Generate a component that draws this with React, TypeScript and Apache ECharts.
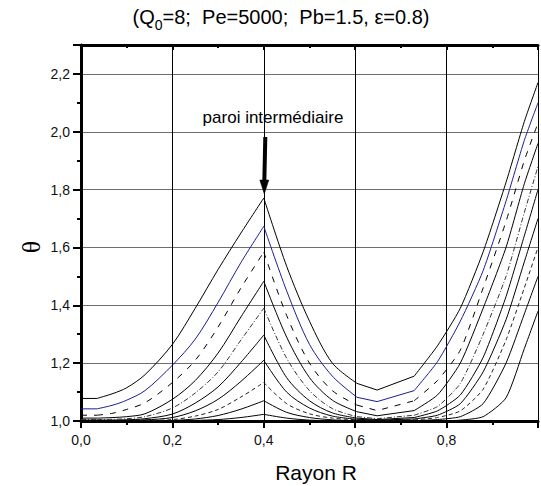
import React, { useEffect, useRef } from 'react';
import * as echarts from 'echarts';

// Radial positions (Rayon R)
const R: number[] = [0, 0.035, 0.07, 0.1, 0.14, 0.2, 0.25, 0.3, 0.35, 0.4, 0.45, 0.5, 0.55, 0.604, 0.648, 0.729, 0.78, 0.83, 0.88, 0.93, 0.97, 1.0];

// Theta profiles
const theta1: number[] = [1.078, 1.078, 1.095, 1.115, 1.16, 1.265, 1.39, 1.524, 1.65, 1.771, 1.535, 1.345, 1.2, 1.13, 1.107, 1.155, 1.26, 1.39, 1.585, 1.825, 2.035, 2.17];
const theta2: number[] = [1.042, 1.042, 1.055, 1.072, 1.105, 1.193, 1.283, 1.41, 1.548, 1.673, 1.45, 1.265, 1.155, 1.082, 1.067, 1.105, 1.205, 1.345, 1.52, 1.76, 1.97, 2.1];
const theta3: number[] = [1.02, 1.02, 1.027, 1.04, 1.063, 1.133, 1.21, 1.325, 1.46, 1.584, 1.365, 1.2, 1.105, 1.055, 1.036, 1.07, 1.14, 1.245, 1.46, 1.69, 1.9, 2.03];
const theta4: number[] = [1.01, 1.01, 1.012, 1.015, 1.025, 1.075, 1.14, 1.235, 1.36, 1.483, 1.29, 1.15, 1.072, 1.032, 1.018, 1.036, 1.09, 1.2, 1.39, 1.6, 1.82, 1.96];
const theta5: number[] = [1.005, 1.005, 1.006, 1.008, 1.015, 1.045, 1.097, 1.17, 1.28, 1.39, 1.217, 1.105, 1.043, 1.015, 1.008, 1.02, 1.05, 1.13, 1.3, 1.5, 1.72, 1.88];
const theta6: number[] = [1.003, 1.003, 1.003, 1.004, 1.008, 1.024, 1.062, 1.118, 1.203, 1.297, 1.15, 1.07, 1.028, 1.01, 1.005, 1.012, 1.035, 1.09, 1.22, 1.43, 1.64, 1.8];
const theta7: number[] = [1.002, 1.002, 1.002, 1.003, 1.004, 1.012, 1.035, 1.075, 1.137, 1.21, 1.1, 1.045, 1.017, 1.006, 1.003, 1.007, 1.02, 1.06, 1.17, 1.35, 1.55, 1.7];
const theta8: number[] = [1.001, 1.001, 1.001, 1.001, 1.002, 1.005, 1.017, 1.04, 1.083, 1.133, 1.06, 1.025, 1.01, 1.004, 1.002, 1.004, 1.012, 1.035, 1.11, 1.28, 1.46, 1.6];
const theta9: number[] = [1.0, 1.0, 1.0, 1.0, 1.0, 1.002, 1.007, 1.019, 1.041, 1.07, 1.03, 1.012, 1.004, 1.001, 1.001, 1.001, 1.005, 1.015, 1.06, 1.2, 1.37, 1.5];
const theta10: number[] = [1.0, 1.0, 1.0, 1.0, 1.0, 1.0, 1.002, 1.005, 1.012, 1.023, 1.01, 1.003, 1.001, 1.0, 1.0, 1.0, 1.0, 1.003, 1.015, 1.08, 1.25, 1.38];

const profiles: number[][] = [theta1, theta2, theta3, theta4, theta5, theta6, theta7, theta8, theta9, theta10];

// drawing pieces of each profile: [startIndex, endIndex, smoothing]
const pieces: [number, number, number][] = [
  [0, 1, 0],
  [1, 9, 0.3],
  [9, 13, 0.3],
  [13, 15, 0],
  [15, 21, 0.2],
];

const lineStyles: { color: string; type: any }[] = [
  { color: '#000000', type: 'solid' },
  { color: '#1c1c98', type: 'solid' },
  { color: '#000000', type: [6, 7] },
  { color: '#000000', type: 'solid' },
  { color: '#333333', type: [5, 2, 1, 2] },
  { color: '#000000', type: 'solid' },
  { color: '#000000', type: 'solid' },
  { color: '#222222', type: [4, 3] },
  { color: '#000000', type: 'solid' },
  { color: '#000000', type: 'solid' },
];

const FONT = 'Liberation Sans, Arial, sans-serif';

const fmt = (v: number) => v.toFixed(1).replace('.', ',');

export default function App() {
  const ref = useRef<HTMLDivElement>(null);
  useEffect(() => {
    const chart = echarts.init(ref.current!, null, { renderer: 'svg' });
    const series: any[] = [];
    profiles.forEach((vals, i) => {
      pieces.forEach(([a, b, s]) => {
        const data: number[][] = [];
        for (let j = a; j <= b; j++) data.push([R[j], vals[j]]);
        series.push({
          type: 'line',
          xAxisIndex: 0,
          yAxisIndex: 0,
          data,
          showSymbol: false,
          symbol: 'none',
          smooth: s > 0 ? s : false,
          clip: true,
          lineStyle: { color: lineStyles[i].color, width: 1, type: lineStyles[i].type },
          z: 10 - i,
        });
      });
    });
    const option: any = {
      animation: false,
      grid: { left: 81, top: 45, right: -11, bottom: 65, show: false },
      xAxis: [
        {
          type: 'value', min: 0, max: 1, interval: 0.2, position: 'bottom',
          axisLine: { show: true, onZero: false, lineStyle: { color: '#000', width: 3 } },
          axisTick: { show: true, inside: false, length: 7, lineStyle: { color: '#000', width: 2 } },
          minorTick: { show: true, splitNumber: 2, length: 4, lineStyle: { color: '#000', width: 2 } },
          axisLabel: {
            margin: 12, fontSize: 14, color: '#111', fontFamily: FONT,
            formatter: (v: number) => (v > 0.99 ? '' : fmt(v)),
          },
          splitLine: { show: true, lineStyle: { color: '#000', width: 1 } },
        },
        {
          type: 'value', min: 0, max: 1, interval: 0.2, position: 'top',
          axisLine: { show: true, onZero: false, lineStyle: { color: '#000', width: 3 } },
          axisTick: { show: true, inside: true, length: 5, lineStyle: { color: '#000', width: 2 } },
          minorTick: { show: true, splitNumber: 2, length: 3, lineStyle: { color: '#000', width: 2 } },
          axisLabel: { show: false },
          splitLine: { show: false },
        },
      ],
      yAxis: [
        {
          type: 'value', min: 1.0, max: 2.3, interval: 0.2,
          axisLine: { show: true, onZero: false, lineStyle: { color: '#000', width: 3 } },
          axisTick: { show: true, inside: false, length: 8, lineStyle: { color: '#000', width: 2 } },
          minorTick: { show: false },
          axisLabel: {
            margin: 11, fontSize: 14, color: '#111', fontFamily: FONT,
            formatter: (v: number) => (Math.abs(v * 5 - Math.round(v * 5)) < 1e-6 ? fmt(v) : ''),
          },
          splitLine: { show: true, lineStyle: { color: '#6e6e6e', width: 1 } },
        },
        {
          type: 'value', min: 1.0, max: 2.3, interval: 0.1, position: 'left', offset: 0,
          axisLine: { show: false },
          axisTick: { show: true, inside: false, length: 4, lineStyle: { color: '#000', width: 2 } },
          axisLabel: { show: false },
          splitLine: { show: false },
        },
      ],
      series,
    };
    chart.setOption(option);
    const tip = chart.convertToPixel({ xAxisIndex: 0, yAxisIndex: 0 }, [R[9], theta1[9]]) as number[];
    const tx = tip[0] + 0.5;
    const ty = tip[1] - 4;
    chart.setOption({
      graphic: [
        {
          type: 'text', x: 281, y: 17,
          style: {
            text: '{a|(Q}{b|0}{a|=8;  Pe=5000;  Pb=1.5, ε=0.8)}',
            align: 'center', verticalAlign: 'middle', textAlign: 'center', textVerticalAlign: 'middle',
            fill: '#000',
            rich: {
              a: { fontSize: 20, fontFamily: FONT, lineHeight: 22, fill: '#000' },
              b: { fontSize: 14, fontFamily: FONT, lineHeight: 14, padding: [16, 0, 0, 0], fill: '#000' },
            },
          },
        },
        {
          type: 'text', x: 316, y: 472,
          style: {
            text: 'Rayon R', fontSize: 21, fontFamily: FONT, fill: '#000',
            align: 'center', verticalAlign: 'middle', textAlign: 'center', textVerticalAlign: 'middle',
          },
        },
        {
          type: 'text', x: 31, y: 247, rotation: Math.PI / 2,
          style: {
            text: 'θ', fontSize: 26, fontFamily: 'Liberation Serif, serif', fill: '#000',
            align: 'center', verticalAlign: 'middle', textAlign: 'center', textVerticalAlign: 'middle',
          },
        },
        {
          type: 'text', x: 273, y: 117,
          style: {
            text: 'paroi intermédiaire', fontSize: 17, fontFamily: FONT, fill: '#000',
            align: 'center', verticalAlign: 'middle', textAlign: 'center', textVerticalAlign: 'middle',
          },
        },
        {
          type: 'line',
          shape: { x1: tx + 1, y1: 137, x2: tx, y2: ty - 12 },
          style: { stroke: '#000', lineWidth: 4 },
          z: 100,
        },
        {
          type: 'polygon',
          shape: { points: [[tx - 4.5, ty - 14], [tx + 4.5, ty - 14], [tx, ty]] },
          style: { fill: '#000', stroke: '#000', lineWidth: 0.5 },
          z: 100,
        },
      ],
    });
    return () => chart.dispose();
  }, []);
  return <div ref={ref} style={{ position: 'absolute', left: 0, top: 0, width: 541, height: 486 }} />;
}
